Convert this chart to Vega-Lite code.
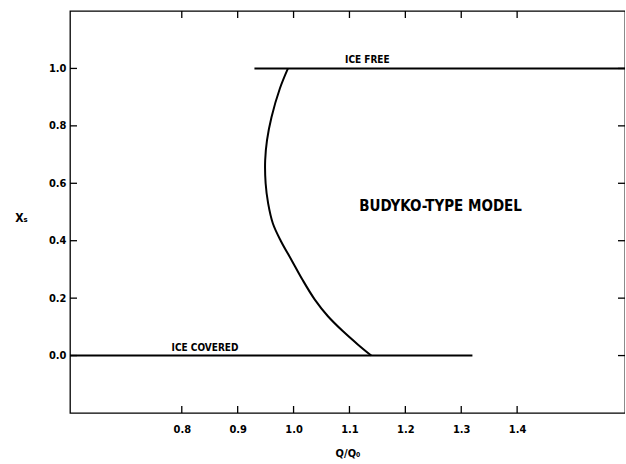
{
  "$schema": "https://vega.github.io/schema/vega-lite/v6.json",
  "width": 555,
  "height": 402,
  "autosize": "none",
  "padding": {"left": 70, "top": 11, "right": 0, "bottom": 51},
  "background": "white",
  "config": {
    "view": {"stroke": "black", "strokeWidth": 1.3},
    "font": "Liberation Sans Narrow, DejaVu Sans Condensed, sans-serif",
    "axis": {
      "grid": false,
      "domain": false,
      "ticks": false,
      "labelColor": "black",
      "labelFontSize": 11,
      "labelFontWeight": "bold",
      "titleColor": "black",
      "titleFontSize": 11,
      "titleFontWeight": "bold"
    }
  },
  "datasets": {
    "lines": [
      {"series": "ice free", "idx": 0, "q": 0.93, "xs": 1.0},
      {"series": "ice free", "idx": 1, "q": 1.593, "xs": 1.0},
      {"series": "ice covered", "idx": 0, "q": 0.6, "xs": 0.0},
      {"series": "ice covered", "idx": 1, "q": 1.32, "xs": 0.0},
      {"series": "budyko", "idx": 0, "q": 0.990, "xs": 1.0},
      {"series": "budyko", "idx": 1, "q": 0.9755, "xs": 0.930},
      {"series": "budyko", "idx": 2, "q": 0.9605, "xs": 0.830},
      {"series": "budyko", "idx": 3, "q": 0.9525, "xs": 0.750},
      {"series": "budyko", "idx": 4, "q": 0.9492, "xs": 0.680},
      {"series": "budyko", "idx": 5, "q": 0.9500, "xs": 0.600},
      {"series": "budyko", "idx": 6, "q": 0.9545, "xs": 0.530},
      {"series": "budyko", "idx": 7, "q": 0.9630, "xs": 0.460},
      {"series": "budyko", "idx": 8, "q": 0.9770, "xs": 0.400},
      {"series": "budyko", "idx": 9, "q": 0.9960, "xs": 0.334},
      {"series": "budyko", "idx": 10, "q": 1.0160, "xs": 0.264},
      {"series": "budyko", "idx": 11, "q": 1.0380, "xs": 0.195},
      {"series": "budyko", "idx": 12, "q": 1.0615, "xs": 0.137},
      {"series": "budyko", "idx": 13, "q": 1.0885, "xs": 0.0845},
      {"series": "budyko", "idx": 14, "q": 1.1154, "xs": 0.038},
      {"series": "budyko", "idx": 15, "q": 1.139, "xs": 0.0}
    ],
    "labels": [
      {"label": "ICE FREE", "q": 1.132, "xs": 1.0},
      {"label": "ICE COVERED", "q": 0.8416, "xs": 0.0}
    ],
    "big": [
      {"label": "BUDYKO-TYPE MODEL", "q": 1.263, "xs": 0.521}
    ],
    "xticks": [
      {"q": 0.8, "xs": -0.2}, {"q": 0.9, "xs": -0.2}, {"q": 1.0, "xs": -0.2}, {"q": 1.1, "xs": -0.2},
      {"q": 1.2, "xs": -0.2}, {"q": 1.3, "xs": -0.2}, {"q": 1.4, "xs": -0.2},
      {"q": 0.8, "xs": 1.2}, {"q": 0.9, "xs": 1.2}, {"q": 1.0, "xs": 1.2}, {"q": 1.1, "xs": 1.2},
      {"q": 1.2, "xs": 1.2}, {"q": 1.3, "xs": 1.2}, {"q": 1.4, "xs": 1.2}
    ],
    "yticks": [
      {"q": 0.6, "xs": 0.0}, {"q": 0.6, "xs": 0.2}, {"q": 0.6, "xs": 0.4},
      {"q": 0.6, "xs": 0.6}, {"q": 0.6, "xs": 0.8}, {"q": 0.6, "xs": 1.0},
      {"q": 1.593, "xs": 0.0}, {"q": 1.593, "xs": 0.2}, {"q": 1.593, "xs": 0.4},
      {"q": 1.593, "xs": 0.6}, {"q": 1.593, "xs": 0.8}, {"q": 1.593, "xs": 1.0}
    ]
  },
  "layer": [
    {
      "data": {"name": "lines"},
      "mark": {"type": "line", "color": "black", "strokeWidth": 2, "clip": true, "interpolate": "catmull-rom"},
      "encoding": {
        "x": {
          "field": "q", "type": "quantitative",
          "scale": {"domain": [0.6, 1.593], "nice": false, "zero": false},
          "axis": {
            "orient": "bottom",
            "values": [0.8, 0.9, 1.0, 1.1, 1.2, 1.3, 1.4],
            "format": ".1f",
            "labelPadding": 10,
            "title": "Q/Q₀",
            "titleY": 40,
            "titleBaseline": "middle"
          }
        },
        "y": {
          "field": "xs", "type": "quantitative",
          "scale": {"domain": [-0.2, 1.2], "nice": false, "zero": false},
          "axis": {
            "orient": "left",
            "values": [0, 0.2, 0.4, 0.6, 0.8, 1.0],
            "format": ".1f",
            "labelPadding": 4,
            "title": "Xₛ",
            "titleAngle": 0,
            "titleX": -49,
            "titleY": 206,
            "titleAlign": "center",
            "titleBaseline": "middle",
            "titleFontSize": 12
          }
        },
        "detail": {"field": "series"},
        "order": {"field": "idx", "type": "quantitative"}
      }
    },
    {
      "data": {"name": "xticks"},
      "mark": {"type": "tick", "orient": "vertical", "size": 14, "thickness": 1.3, "color": "black", "opacity": 1, "clip": true},
      "encoding": {
        "x": {"field": "q", "type": "quantitative"},
        "y": {"field": "xs", "type": "quantitative"}
      }
    },
    {
      "data": {"name": "yticks"},
      "mark": {"type": "tick", "orient": "horizontal", "size": 14, "thickness": 1.3, "color": "black", "opacity": 1, "clip": true},
      "encoding": {
        "x": {"field": "q", "type": "quantitative"},
        "y": {"field": "xs", "type": "quantitative"}
      }
    },
    {
      "data": {"name": "labels"},
      "mark": {"type": "text", "color": "black", "fontSize": 10, "fontWeight": "bold", "baseline": "bottom", "dy": -3, "align": "center"},
      "encoding": {
        "x": {"field": "q", "type": "quantitative"},
        "y": {"field": "xs", "type": "quantitative"},
        "text": {"field": "label"}
      }
    },
    {
      "data": {"name": "big"},
      "mark": {"type": "text", "color": "black", "fontSize": 15, "fontWeight": "bold", "baseline": "middle", "align": "center"},
      "encoding": {
        "x": {"field": "q", "type": "quantitative"},
        "y": {"field": "xs", "type": "quantitative"},
        "text": {"field": "label"}
      }
    }
  ]
}
